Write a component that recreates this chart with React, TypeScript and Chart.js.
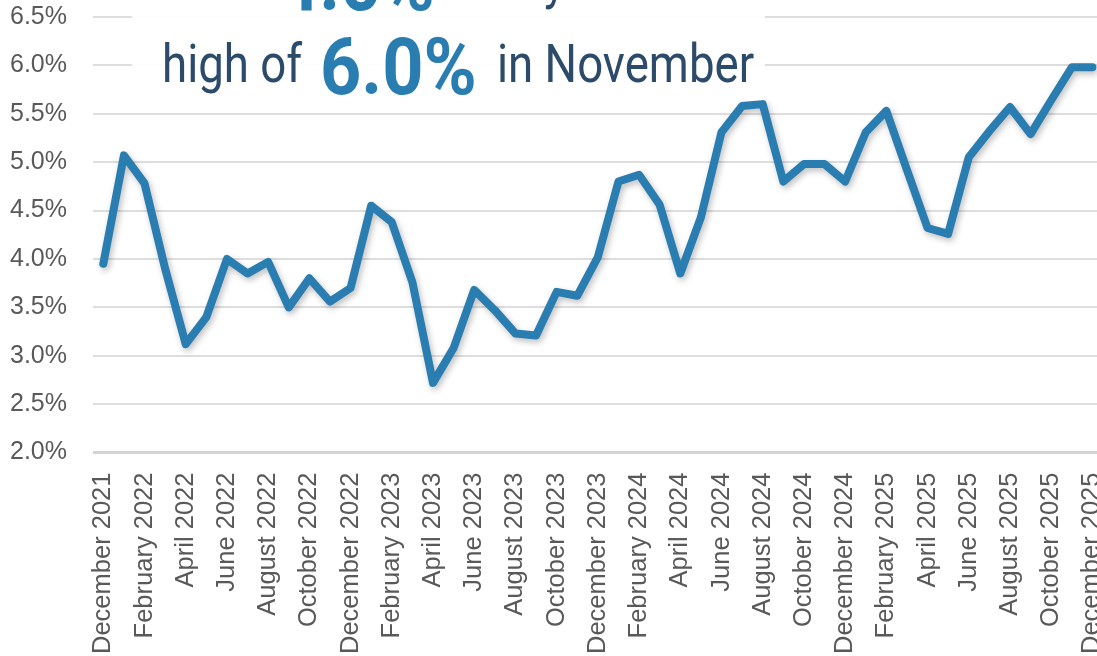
import { useEffect, useRef } from "react";
import { Chart, registerables } from "chart.js";

Chart.register(...registerables);

const categories = [
  "December 2021",
  "January 2022", "February 2022", "March 2022", "April 2022", "May 2022", "June 2022",
  "July 2022", "August 2022", "September 2022", "October 2022", "November 2022", "December 2022",
  "January 2023", "February 2023", "March 2023", "April 2023", "May 2023", "June 2023",
  "July 2023", "August 2023", "September 2023", "October 2023", "November 2023", "December 2023",
  "January 2024", "February 2024", "March 2024", "April 2024", "May 2024", "June 2024",
  "July 2024", "August 2024", "September 2024", "October 2024", "November 2024", "December 2024",
  "January 2025", "February 2025", "March 2025", "April 2025", "May 2025", "June 2025",
  "July 2025", "August 2025", "September 2025", "October 2025", "November 2025", "December 2025",
];

const rateValues = [
  3.95,
  5.07, 4.78, 3.9, 3.12, 3.4, 4.0,
  3.85, 3.97, 3.5, 3.8, 3.56, 3.7,
  4.55, 4.38, 3.76, 2.72, 3.08, 3.68,
  3.47, 3.23, 3.21, 3.66, 3.62, 4.02,
  4.8, 4.87, 4.56, 3.85, 4.43, 5.31,
  5.58, 5.6, 4.8, 4.98, 4.98, 4.8,
  5.31, 5.53, 4.92, 4.32, 4.26, 5.05,
  5.32, 5.57, 5.29, 5.64, 5.98, 5.98,
];

const yMin = 2.0;
const yMax = 6.5;
const yStep = 0.5;

const titleLine1 = [
  { text: "from", bold: false },
  { text: "4.0%", bold: true },
  { text: "in May", bold: false },
];
const titleLine2 = [
  { text: "high of", bold: false },
  { text: "6.0%", bold: true },
  { text: "in November", bold: false },
];

const DARK = "#2c4b6b";
const BLUE = "#2a7db1";
const SHIFT = 24;

const titlePlugin = {
  id: "titleBox",
  afterDraw(chart: any) {
    const ctx = chart.ctx as CanvasRenderingContext2D;
    ctx.save();
    ctx.translate(0, SHIFT);
    ctx.fillStyle = "rgba(255,255,255,0.94)";
    ctx.fillRect(132, -SHIFT, 633, 100 + SHIFT);
    const drawLine = (runs: { text: string; bold: boolean }[], xs: number[], baseNormal: number, baseBold: number) => {
      runs.forEach((r, i) => {
        ctx.save();
        if (r.bold) {
          ctx.font = "bold 80px Roboto";
          ctx.fillStyle = BLUE;
          ctx.translate(xs[i], baseBold);
          ctx.scale(0.9, 1);
        } else {
          ctx.font = "54px Roboto";
          ctx.fillStyle = DARK;
          ctx.translate(xs[i], baseNormal);
          ctx.scale(0.845, 1);
        }
        ctx.textBaseline = "alphabetic";
        ctx.textAlign = "left";
        ctx.fillText(r.text, 0, 0);
        ctx.restore();
      });
    };
    drawLine(titleLine1, [162, 278, 432], -2, 10);
    drawLine(titleLine2, [162, 320, 497], 82, 94);
    ctx.restore();
  },
};

const shadowPlugin = {
  id: "lineShadow",
  beforeDatasetDraw(chart: any) {
    const ctx = chart.ctx as CanvasRenderingContext2D;
    ctx.save();
    ctx.shadowColor = "rgba(0,0,0,0.25)";
    ctx.shadowBlur = 6;
    ctx.shadowOffsetX = 2;
    ctx.shadowOffsetY = 3;
  },
  afterDatasetDraw(chart: any) {
    chart.ctx.restore();
  },
};

export default function App() {
  const canvasRef = useRef<HTMLCanvasElement | null>(null);

  useEffect(() => {
    if (!canvasRef.current) return;
    const chart = new Chart(canvasRef.current, {
      type: "line",
      data: {
        labels: categories,
        datasets: [
          {
            data: rateValues,
            borderColor: BLUE,
            borderWidth: 8,
            pointRadius: 0,
            tension: 0,
            borderJoinStyle: "round",
            borderCapStyle: "round",
            fill: false,
          },
        ],
      },
      options: {
        animation: false,
        responsive: false,
        devicePixelRatio: 1,
        layout: { autoPadding: false, padding: { left: 8, top: 0, right: 0, bottom: 7 } },
        plugins: {
          legend: { display: false },
          tooltip: { enabled: false },
          title: { display: false },
        },
        scales: {
          x: {
            offset: true,
            grid: { display: false, drawTicks: false },
            border: { display: false },
            ticks: {
              autoSkip: false,
              maxRotation: 90,
              minRotation: 90,
              padding: 20,
              color: "#595959",
              font: { family: "Liberation Sans", size: 25.5 },
              callback: (_v: any, i: number) => (i % 2 === 0 ? categories[i] : ""),
            },
          },
          y: {
            min: yMin,
            max: yMax,
            border: { display: false },
            afterFit: (s: any) => {
              s.width = 85;
            },
            grid: {
              drawTicks: false,
              color: (c: any) => (c.tick && c.tick.value === yMin ? "#d3d3d3" : "#dedede"),
              lineWidth: (c: any) => (c.tick && c.tick.value === yMin ? 3 : 2),
            },
            ticks: {
              stepSize: yStep,
              padding: 26,
              color: "#595959",
              font: { family: "Liberation Sans", size: 25 },
              callback: (v: any) => Number(v).toFixed(1) + "%",
            },
          },
        },
      },
      plugins: [shadowPlugin, titlePlugin],
    });
    return () => chart.destroy();
  }, []);

  return (
    <div
      style={{
        position: "fixed",
        left: 0,
        top: 0,
        width: 1097,
        height: 656,
        overflow: "hidden",
        background: "#fff",
      }}
    >
      <canvas
        ref={canvasRef}
        width={1143}
        height={705}
        style={{ width: 1143, height: 705, display: "block", marginTop: -SHIFT }}
      />
    </div>
  );
}
